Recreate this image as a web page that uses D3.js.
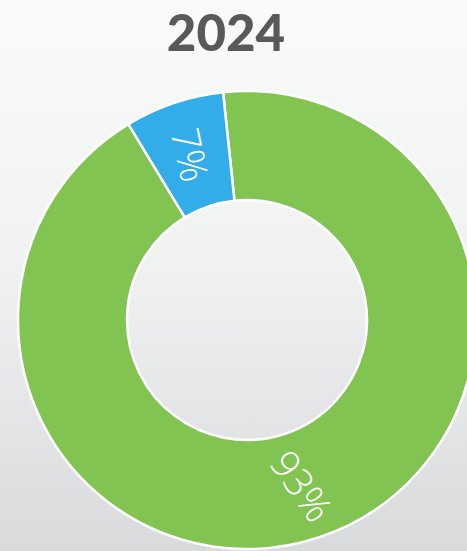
<!DOCTYPE html>
<html>
<head>
<meta charset="utf-8">
<script src="https://cdn.jsdelivr.net/npm/d3@7"></script>
<style>
  html, body { margin: 0; padding: 0; overflow: hidden; }
</style>
</head>
<body>
<svg id="chart" width="467" height="551"></svg>
<script>
// data
const title = "2024";
const categories = ["Green", "Blue"];
const values = [93, 7];
const labels = ["93%", "7%"];

// styles
const colours = { Green: "#82c452", Blue: "#33ade9" };
const labelRotation = { Green: 55, Blue: 78 };

const width = 467, height = 551;
const cx = 247, cy = 320;
const outerR = 229, innerR = 120;
const startAngle = -6 * Math.PI / 180;

const svg = d3.select("#chart");

const defs = svg.append("defs");
const grad = defs.append("linearGradient")
  .attr("id", "bgGrad")
  .attr("x1", 0).attr("y1", 0)
  .attr("x2", 0).attr("y2", 1);
grad.append("stop").attr("offset", "0%").attr("stop-color", "#f9fafa");
grad.append("stop").attr("offset", "45%").attr("stop-color", "#f1f2f2");
grad.append("stop").attr("offset", "100%").attr("stop-color", "#d9dadc");

svg.append("rect")
  .attr("width", width)
  .attr("height", height)
  .attr("fill", "url(#bgGrad)");

svg.append("text")
  .attr("x", 226)
  .attr("y", 51)
  .attr("text-anchor", "middle")
  .attr("font-family", "Lato, 'Open Sans', sans-serif")
  .attr("font-weight", 900)
  .attr("font-size", 51)
  .attr("fill", "#595959")
  .text(title);

const data = categories.map((c, i) => ({ cat: c, value: values[i], label: labels[i] }));

const pie = d3.pie()
  .sort(null)
  .value(d => d.value)
  .startAngle(startAngle)
  .endAngle(startAngle + 2 * Math.PI);

const arc = d3.arc()
  .innerRadius(innerR)
  .outerRadius(outerR);

const g = svg.append("g")
  .attr("transform", `translate(${cx},${cy})`);

g.selectAll("path")
  .data(pie(data))
  .join("path")
  .attr("d", arc)
  .attr("fill", d => colours[d.data.cat])
  .attr("stroke", "#fff")
  .attr("stroke-width", 2.5)
  .attr("stroke-linejoin", "round");

g.selectAll("text.lbl")
  .data(pie(data))
  .join("text")
  .attr("class", "lbl")
  .attr("transform", d => {
    const [x, y] = arc.centroid(d);
    return `translate(${x},${y}) rotate(${labelRotation[d.data.cat]})`;
  })
  .attr("text-anchor", "middle")
  .attr("dominant-baseline", "central")
  .attr("font-family", "'Open Sans', sans-serif")
  .attr("font-weight", 300)
  .attr("font-size", 39)
  .attr("fill", "#fff")
  .text(d => d.data.label);
</script>
</body>
</html>
